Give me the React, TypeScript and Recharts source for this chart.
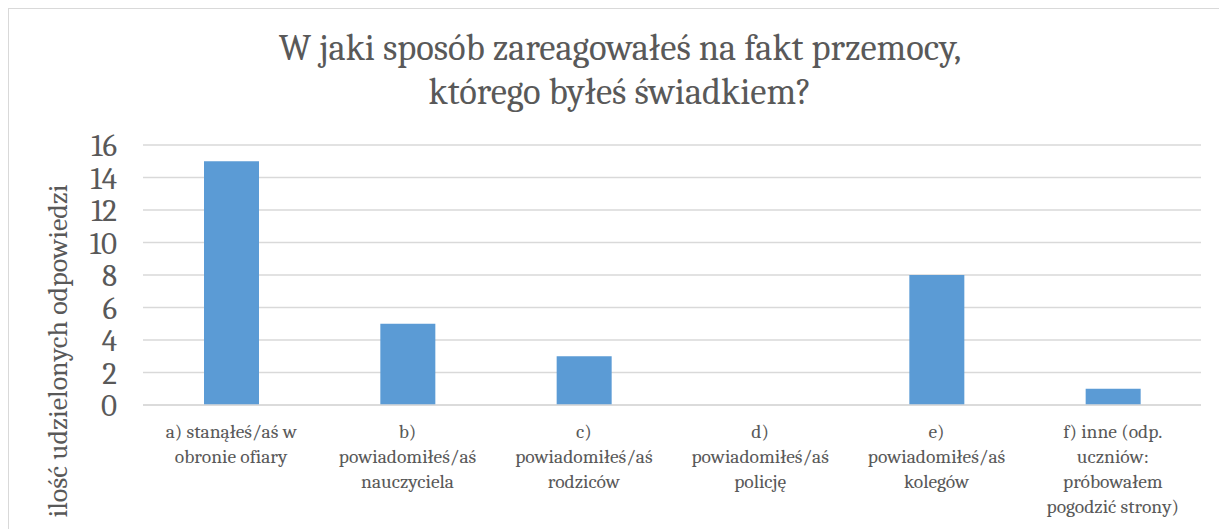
import { Bar, BarChart, CartesianGrid, XAxis, YAxis } from 'recharts';

const categories = [
  'a) stanąłeś/aś w\nobronie ofiary',
  'b)\npowiadomiłeś/aś\nnauczyciela',
  'c)\npowiadomiłeś/aś\nrodziców',
  'd)\npowiadomiłeś/aś\npolicję',
  'e)\npowiadomiłeś/aś\nkolegów',
  'f) inne (odp.\nuczniów:\npróbowałem\npogodzić strony)',
];
const answers = [15, 5, 3, 0, 8, 1];
const yTicks = [0, 2, 4, 6, 8, 10, 12, 14, 16];
const titleLines = ['W jaki sposób zareagowałeś na fakt przemocy,', 'którego byłeś świadkiem?'];
const yLabel = 'ilość udzielonych odpowiedzi';

const FONT = 'Cambria, "Liberation Serif", serif';
const INK = '#595959';
const GRID = '#d9d9d9';

const data = categories.map((name, i) => ({ name, value: answers[i] }));

function CategoryTick({ x, y, payload }: any) {
  const lines = String(payload.value).split('\n');
  return (
    <text x={x} y={y + 25} textAnchor="middle" fill={INK} fontSize={19.5} fontFamily={FONT}>
      {lines.map((l, i) => (
        <tspan key={i} x={x} dy={i === 0 ? 0 : 25}>
          {l}
        </tspan>
      ))}
    </text>
  );
}

function AxisTitle() {
  const cx = 49;
  const cy = 342;
  return (
    <text
      x={cx}
      y={cy}
      transform={`rotate(-90 ${cx} ${cy})`}
      textAnchor="middle"
      dominantBaseline="central"
      fill={INK}
      fontSize={28}
      fontFamily={FONT}
    >
      {yLabel}
    </text>
  );
}

export default function App() {
  return (
    <div
      style={{
        position: 'fixed',
        left: 8,
        top: 8,
        width: 1211,
        height: 521,
        overflow: 'hidden',
        background: '#fff',
      }}
    >
      <div
        style={{
          position: 'absolute',
          left: 0,
          top: 0,
          width: 1222,
          height: 600,
          border: `1px solid ${GRID}`,
          background: '#fff',
        }}
      >
        <div
          style={{
            position: 'absolute',
            left: 0,
            top: 17,
            width: 1222,
            textAlign: 'center',
            fontFamily: FONT,
            fontSize: 36.5,
            lineHeight: '44px',
            color: INK,
          }}
        >
          {titleLines.map((t) => (
            <div key={t}>{t}</div>
          ))}
        </div>
        <BarChart
          width={1222}
          height={600}
          data={data}
          margin={{ top: 136, right: 30, bottom: 74, left: 0 }}
        >
          <CartesianGrid vertical={false} stroke={GRID} strokeWidth={1.3} />
          <XAxis
            dataKey="name"
            interval={0}
            height={130}
            tickLine={false}
            axisLine={{ stroke: GRID, strokeWidth: 1.3 }}
            tick={<CategoryTick />}
          />
          <YAxis
            width={134}
            domain={[0, 16]}
            ticks={yTicks}
            interval={0}
            axisLine={false}
            tickLine={false}
            tickSize={8}
            tickMargin={18}
            tick={{ fill: INK, fontSize: 31, fontFamily: FONT }}
            label={<AxisTitle />}
          />
          <Bar dataKey="value" fill="#5b9bd5" barSize={55} isAnimationActive={false} />
        </BarChart>
      </div>
    </div>
  );
}
